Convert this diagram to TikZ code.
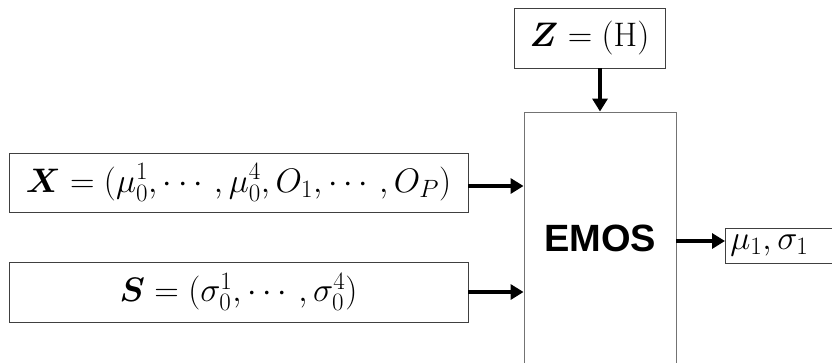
\documentclass[tikz,border=0pt]{standalone}
\usepackage{fix-cm}
\usepackage{amsmath, amssymb}
\usepackage{bm}
\usepackage{fontspec}
\newfontfamily\arialfont{Liberation Sans}
\DeclareMathSizes{34}{34}{25}{20}
\usepackage{tikz}
\usetikzlibrary{positioning, arrows.meta, calc}

\begin{document}
\begin{tikzpicture}[
  x=1pt, y=-1pt,
  font=\fontsize{34}{40}\selectfont,
  block/.style={draw=black!75, line width=0.9pt, inner sep=0pt, align=center},
  feed/.style={line width=3.4pt, -{Triangle[length=13pt, width=15pt]}},
]
\useasboundingbox (0,0) rectangle (832,362);
% inputs on the left, covariates on top
\node[block, minimum width=151pt, minimum height=60pt] (zbox) at (589.5,38) {$\bm{Z}=(\mathrm{H})$};
\node[block, minimum width=459pt, minimum height=59pt] (xbox) at (238.5,182.5) {$\bm{X}=(\mu_0^1,\cdots,\mu_0^4,O_1,\cdots,O_P)$};
\node[block, minimum width=459pt, minimum height=60pt] (sbox) at (238.5,292) {$\bm{S}=(\sigma_0^1,\cdots,\sigma_0^4)$};
% model block, runs past the lower edge
\node[block, draw=black!55, minimum width=152pt, minimum height=252pt, font=\fontsize{38}{44}\arialfont\bfseries] (emos) at (600,238) {EMOS};
% output, runs past the right edge
\node[block, minimum width=130pt, minimum height=35pt, anchor=west, text width=122pt, align=left] (out) at (725,245.5) {\hspace{1pt}$\mu_1,\sigma_1$};
% arrows
\draw[feed] (emos.north |- zbox.south) -- (emos.north);
\draw[feed] (xbox.east |- 0,186) coordinate (xa) -- (xa -| emos.west);
\draw[feed] (sbox.east) -- (sbox.east -| emos.west);
\draw[feed] (emos.east |- 0,241) coordinate (oa) -- (oa -| out.west);
\end{tikzpicture}
\end{document}
